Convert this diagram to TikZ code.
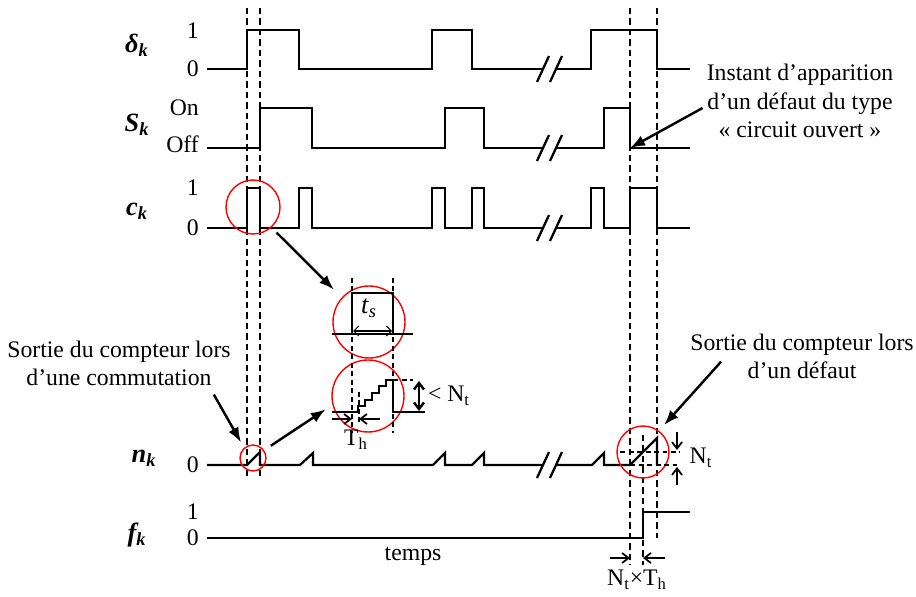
\documentclass[tikz,border=0pt]{standalone}
\usepackage{fontspec}
\setmainfont{Liberation Serif}
\usepackage{tikz}
\usetikzlibrary{arrows.meta,calc}

\begin{document}
\begin{tikzpicture}[x=0.02cm, y=-0.02cm, font=\fontsize{13.5}{16}\selectfont, >=Latex,
  sig/.style={line width=1.3pt},
  guide/.style={line width=0.9pt, dash pattern=on 1.3mm off 0.8mm},
  fineguide/.style={line width=0.7pt, dash pattern=on 1mm off 0.7mm},
  ptr/.style={line width=1.4pt, -{Latex[length=3mm,width=2.2mm]}},
  dimarr/.style={line width=1pt, -{Straight Barb[length=1.3mm,width=2mm]}},
  zoomc/.style={circle, draw=red, line width=0.8pt, inner sep=0pt},
  sname/.style={font=\fontsize{15}{17}\selectfont\bfseries\itshape},
  lvl/.style={anchor=east}]
  \useasboundingbox (0,0) rectangle (916,597);

  % signal names and levels
  \node[sname] (dlbl) at (137,45) {δ\textsubscript{k}};
  \node[sname] (slbl) at (137,125) {S\textsubscript{k}};
  \node[sname] (clbl) at (137,211) {c\textsubscript{k}};
  \node[sname] (nlbl) at (144,458) {n\textsubscript{k}};
  \node[sname] (flbl) at (137,535) {f\textsubscript{k}};
  \node[lvl] (d1) at (205,31) {1};
  \node[lvl] (d0) at (205,69) {0};
  \node[lvl] (son) at (205,108) {On};
  \node[lvl] (soff) at (205,144) {Off};
  \node[lvl] (c1) at (205,188) {1};
  \node[lvl] (c0) at (205,228) {0};
  \node[lvl] (n0) at (205,465) {0};
  \node[lvl] (f1) at (205,512) {1};
  \node[lvl] (f0) at (205,538) {0};

  % guides
  \draw[guide] (247,8) -- (247,480) (260,8) -- (260,480);
  \draw[guide] (630,8) -- (630,565) (657,8) -- (657,538) (643,435) -- (643,565);

  % signals
  \draw[sig] (207,69) -| (247,30) -| (299,69) -| (432,30) -| (472,69) -- (543,69)
             (556,69) -| (591,30) -| (657,69) -- (690,69);
  \draw[sig] (207,148) -| (260,108) -| (312,148) -| (445,108) -| (484,148) -- (543,148)
             (556,148) -| (604,108) -| (630,148) -- (690,148);
  \draw[sig] (207,228) -| (247,188) -| (260,228) -| (299,188) -| (312,228) -| (432,188)
             -| (445,228) -| (472,188) -| (484,228) -- (543,228)
             (556,228) -| (591,188) -| (604,228) -| (630,188) -| (657,228) -- (690,228);
  \draw[sig] (207,465) -- (247,465) -- (260,452) -- (260,465) -- (300,465) -- (313,453)
             -- (313,465) -- (433,465) -- (445,453) -- (445,465) -- (472,465) -- (484,453)
             -- (484,465) -- (543,465)
             (556,465) -- (592,465) -- (604,453) -- (604,465) -- (630,465) -- (657,438) -- (657,465);
  \draw[sig] (207,538) -| (643,512) -- (690,512);
  \foreach \yb in {69,148,228,465}
    \draw[sig] (537,\yb+13) -- (549,\yb-13) (550,\yb+13) -- (562,\yb-13);
  \coordinate (fault) at (630,148);

  % zoom circles
  \node[zoomc, minimum size=1.08cm] (ckzoom) at (253,207) {};
  \node[zoomc, minimum size=0.52cm] (nkzoom) at (253,458) {};
  \node[zoomc, minimum size=1.44cm] (tszoom) at (369,322) {};
  \node[zoomc, minimum size=1.44cm] (stairzoom) at (368,396) {};
  \node[zoomc, minimum size=1.04cm] (fltzoom) at (643,452) {};

  % magnified pulse
  \draw[fineguide] (352,278) -- (352,433) (393,278) -- (393,433) (359,392) -- (359,422);
  \draw[line width=1.1pt] (332,334) -- (352,334) -- (352,293) -- (393,293) -- (393,334) (352,334) -- (413,334);
  \draw[line width=0.6pt, {Straight Barb[length=1mm]}-{Straight Barb[length=1mm]}] (353,331) -- (392,331);
  \node (tslbl) at (369,308) {\fontsize{15}{17}\selectfont\textit{t}\textsubscript{\textit{s}}};

  % magnified counter
  \draw[line width=1.1pt] (332,412) -- (358,412) -- (358,406) -- (365,406) -- (365,400) -- (372,400)
       -- (372,393) -- (379,393) -- (379,386) -- (386,386) -- (386,380) -- (393,380) -- (393,412) -- (425,412);
  \draw[fineguide] (393,380) -- (413,380);
  \draw[line width=1.4pt, {Straight Barb[length=1.3mm,width=2mm]}-{Straight Barb[length=1.3mm,width=2mm]}] (419,381) -- (419,411);
  \node (ntlbl) at (449,396) {< N\textsubscript{t}};
  \draw[dimarr] (332,419) -- (352,419);
  \draw[dimarr] (380,419) -- (359,419);
  \node (thlbl) at (356,440) {T\textsubscript{h}};

  % fault counter
  \draw[fineguide] (620,452) -- (680,452) (630,465) -- (680,465);
  \draw[dimarr] (677,432) -- (677,450);
  \draw[dimarr] (677,485) -- (677,467);
  \node (ntflt) at (701,458) {N\textsubscript{t}};
  \draw[dimarr] (610,558) -- (630,558);
  \draw[dimarr] (665,558) -- (643,558);
  \node (nth) at (637,580) {N\textsubscript{t}×T\textsubscript{h}};
  \node (temps) at (413,556) {temps};

  % notes
  \node[align=center] (opentxt) at (800,101) {Instant d’apparition\\d’un défaut du type\\«~circuit ouvert~»};
  \node[align=center] (cmtxt) at (119,363) {Sortie du compteur lors\\d’une commutation};
  \node[align=center] (fltxt) at (802,356) {Sortie du compteur lors\\d’un défaut};
  \draw[ptr, shorten <=1.4mm, shorten >=2.2mm] (ckzoom.-48) -- (tszoom.138);
  \draw[ptr, shorten <=1.6mm, shorten >=1.6mm] (nkzoom.35) -- (stairzoom.194);
  \draw[ptr, shorten >=1.2mm] ($(cmtxt.south east)+(-23,3)$) -- (nkzoom.131);
  \draw[ptr] ($(opentxt.west)+(2,7)$) -- (fault);
  \draw[ptr, shorten >=1.5mm] ($(fltxt.south west)+(37,-23)$) -- (fltzoom.53);
\end{tikzpicture}
\end{document}
